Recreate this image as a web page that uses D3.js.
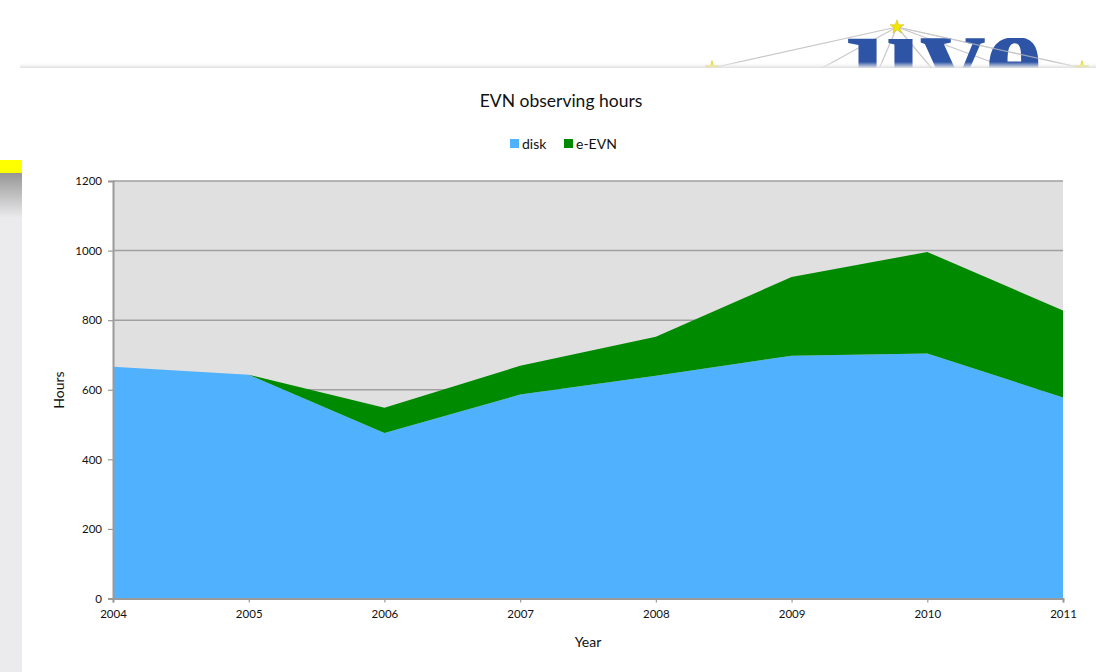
<!DOCTYPE html>
<html><head><meta charset="utf-8">
<script src="https://cdn.jsdelivr.net/npm/d3@7"></script>
<style>body{margin:0;background:#fff;} svg{display:block;}</style>
</head><body>
<svg id="chart" width="1096" height="672"></svg>
<script>
const years = [2004, 2005, 2006, 2007, 2008, 2009, 2010, 2011];
const disk  = [666, 643, 476, 586, 640, 698, 704, 578];
const eEVN  = [0, 0, 72, 83, 112, 226, 292, 250];
const seriesNames = ["disk", "e-EVN"];
const seriesColors = ["#50b2fe", "#008a00"];
const yTicks = [0, 200, 400, 600, 800, 1000, 1200];

const svg = d3.select("#chart");
const W = 1096, H = 672;

// ---- slide background decoration ----
const defs = svg.append("defs");
const lg = defs.append("linearGradient").attr("id","leftGrad").attr("x1",0).attr("y1",0).attr("x2",0).attr("y2",1);
lg.append("stop").attr("offset","0").attr("stop-color","#969696");
lg.append("stop").attr("offset","0.09").attr("stop-color","#ebebed");
lg.append("stop").attr("offset","1").attr("stop-color","#ebebed");
const sg = defs.append("linearGradient").attr("id","shadowGrad").attr("x1",0).attr("y1",0).attr("x2",0).attr("y2",1);
sg.append("stop").attr("offset","0").attr("stop-color","#ffffff").attr("stop-opacity",0);
sg.append("stop").attr("offset","1").attr("stop-color","#dedede");
defs.append("clipPath").attr("id","logoClip").append("rect").attr("x",600).attr("y",38).attr("width",496).attr("height",40);

// logo (partially hidden behind the white panel, as in the reference)
const logo = svg.append("g");
const lineTargets = [[712,68],[1082,68],[800,80],[870,90],[950,90],[1040,80]];
lineTargets.forEach(t => logo.append("line").attr("x1",897).attr("y1",27).attr("x2",t[0]).attr("y2",t[1]).attr("stroke","#c8c8c8").attr("stroke-width",1.2));
logo.append("text").attr("x",942).attr("y",97).attr("text-anchor","middle").attr("clip-path","url(#logoClip)")
  .attr("font-family","Liberation Serif").attr("font-weight","bold").attr("font-size",128)
  .attr("fill","#2e55a5").text("jive");
logo.append("line").attr("x1",897).attr("y1",27).attr("x2",1082).attr("y2",68).attr("stroke","#c8c8c8").attr("stroke-width",1.2).attr("opacity",0.7);
const stars = [[897,27],[712,68],[1082,68]];
const starPath = d3.symbol().type(d3.symbolStar).size(60);
stars.forEach(s => logo.append("path").attr("d",starPath()).attr("transform",`translate(${s[0]},${s[1]})`).attr("fill","#f5e600").attr("stroke","#c9b800").attr("stroke-width",0.5));

// shadow strip and white panel
svg.append("rect").attr("x",20).attr("y",62).attr("width",W-20).attr("height",6).attr("fill","url(#shadowGrad)");
svg.append("rect").attr("x",22).attr("y",68).attr("width",W-22).attr("height",H-68).attr("fill","#ffffff");
// left strip
svg.append("rect").attr("x",0).attr("y",173).attr("width",22).attr("height",H-173).attr("fill","url(#leftGrad)");
svg.append("rect").attr("x",0).attr("y",160).attr("width",22).attr("height",13).attr("fill","#ffff00");

// ---- chart ----
const x0 = 113, x1 = 1063, yTop = 181, yBot = 598.5;
const x = d3.scaleLinear().domain([2004, 2011]).range([x0, x1]);
const y = d3.scaleLinear().domain([0, 1200]).range([yBot, yTop]);

const font = "Lato, 'Open Sans', sans-serif";

svg.append("rect").attr("x",x0).attr("y",yTop).attr("width",x1-x0).attr("height",yBot-yTop).attr("fill","#e0e0e0");

// gridlines
svg.append("g").selectAll("line").data(yTicks.filter(d=>d>0)).join("line")
  .attr("x1",x0).attr("x2",x1).attr("y1",d=>y(d)).attr("y2",d=>y(d))
  .attr("stroke","#a0a0a0").attr("stroke-width",1.5);

// stacked areas
const table = years.map((yr,i)=>({year:yr, "disk":disk[i], "e-EVN":eEVN[i]}));
const stack = d3.stack().keys(seriesNames)(table);
const area = d3.area().x(d=>x(d.data.year)).y0(d=>y(d[0])).y1(d=>y(d[1])).curve(d3.curveLinear);
svg.append("g").selectAll("path").data(stack).join("path")
  .attr("d",area).attr("fill",(d,i)=>seriesColors[i]);

// axes
const yAxis = d3.axisLeft(y).tickValues(yTicks).tickFormat(d3.format("d")).tickSize(5).tickPadding(6);
const gy = svg.append("g").attr("transform",`translate(${x0},0)`).call(yAxis);
const xAxis = d3.axisBottom(x).tickValues(years).tickFormat(d3.format("d")).tickSize(4).tickPadding(7);
const gx = svg.append("g").attr("transform",`translate(0,${yBot})`).call(xAxis);
[gx, gy].forEach(g=>{
  g.select(".domain").attr("stroke","#9a9a9a").attr("stroke-width",2);
  g.selectAll(".tick line").attr("stroke","#9a9a9a").attr("stroke-width",1.2);
  g.selectAll(".tick text").attr("font-family",font).attr("font-size",11.5).attr("fill","#111");
});

// titles
svg.append("text").attr("x",561).attr("y",107).attr("text-anchor","middle")
  .attr("font-family",font).attr("font-size",17.5).attr("fill","#111").text("EVN observing hours");
svg.append("text").attr("x",588).attr("y",647).attr("text-anchor","middle")
  .attr("font-family",font).attr("font-size",14).attr("fill","#111").text("Year");
svg.append("text").attr("transform","translate(64,390) rotate(-90)").attr("text-anchor","middle")
  .attr("font-family",font).attr("font-size",14).attr("fill","#111").text("Hours");

// legend
const legendX = [510, 564];
const lgG = svg.append("g");
seriesNames.forEach((n,i)=>{
  lgG.append("rect").attr("x",legendX[i]).attr("y",139).attr("width",9).attr("height",9).attr("fill",seriesColors[i]);
  lgG.append("text").attr("x",legendX[i]+12).attr("y",149).attr("font-family",font).attr("font-size",14).attr("fill","#111").text(n);
});
</script>
</body></html>
